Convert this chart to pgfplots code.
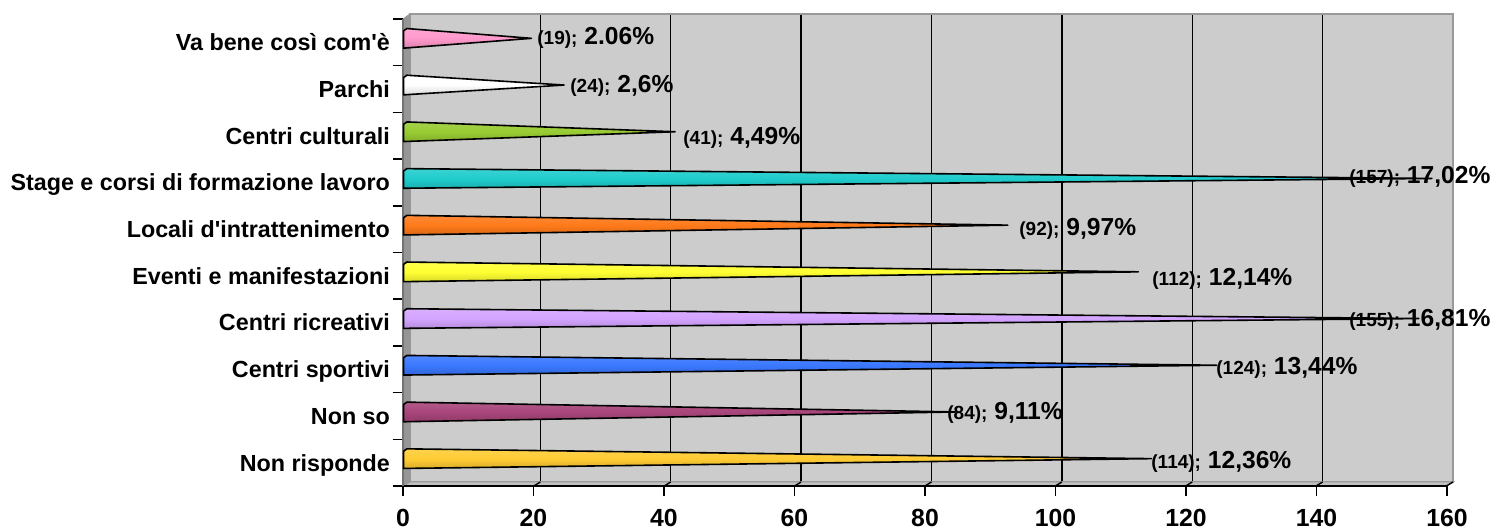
\documentclass[border=0pt]{standalone}
\usepackage{pgfplots}
\pgfplotsset{compat=1.18}
\usepackage{fontspec}
\setmainfont{Liberation Sans}
\definecolor{wall}{HTML}{CCCCCC}
\definecolor{wallb}{HTML}{999999}
\definecolor{side}{HTML}{969696}
\definecolor{floorc}{HTML}{C0C0C0}
\definecolor{cgold}{HTML}{FFCC33}
\definecolor{cmaroon}{HTML}{A8457A}
\definecolor{cblue}{HTML}{3A78FF}
\definecolor{clav}{HTML}{D4A4FF}
\definecolor{cyel}{HTML}{FFFF33}
\definecolor{cora}{HTML}{FF7A1A}
\definecolor{cteal}{HTML}{20CCCC}
\definecolor{cgreen}{HTML}{99CC33}
\definecolor{cwhite}{HTML}{FFFFFF}
\definecolor{cpink}{HTML}{FF99CC}
\newcommand{\cone}[6]{% value, lo, mid, hi, below hi, colour
  \addplot[draw=black,line width=0.8pt,line join=round,top color=#6!88!white,bottom color=#6!85!black,middle color=#6,forget plot]
   coordinates {(-0.6,#2) (#1,#3) (-0.1,#4) (-0.6,#5)} -- cycle;
}
\newcommand{\lab}[4]{% px x, px y, small, large
  \node[anchor=west,inner sep=0pt,text=black] at (axis cs:{(#1-407.5)/6.525},{(480-#2)/46.7})
   {\bfseries\fontsize{9.5pt}{10pt}\selectfont #3;\hspace{0.8pt} \fontsize{12.3pt}{13pt}\selectfont #4};
}
\begin{document}
\begin{tikzpicture}[x=1pt,y=1pt]
\path[use as bounding box] (0,0) rectangle (747,265);
% back wall
\begin{axis}[at={(205pt,24pt)},anchor=south west,scale only axis,width=521.5pt,height=234pt,
  xmin=0,xmax=160,ymin=0,ymax=1,xtick={0,20,...,160},ytick=\empty,xticklabels={},
  xmajorgrids,grid style={black,line width=0.7pt},major tick length=0pt,
  axis background/.style={fill=wall},axis line style={wallb,line width=1.1pt},
  clip=false]
  \addplot[fill=side,draw=wallb,line width=0.5pt,forget plot] coordinates {(0,1) (-1.07,0.989) (-1.07,-0.009) (0,0)} -- cycle;
  \addplot[fill=floorc,draw=wallb,line width=0.5pt,forget plot] coordinates {(0,0) (-1.07,-0.009) (158.93,-0.009) (160,0)} -- cycle;
  \addplot[draw=black,line width=0.7pt,forget plot] coordinates {(20,0) (18.93,-0.009)};
  \addplot[draw=black,line width=0.7pt,forget plot] coordinates {(40,0) (38.93,-0.009)};
  \addplot[draw=black,line width=0.7pt,forget plot] coordinates {(60,0) (58.93,-0.009)};
  \addplot[draw=black,line width=0.7pt,forget plot] coordinates {(80,0) (78.93,-0.009)};
  \addplot[draw=black,line width=0.7pt,forget plot] coordinates {(100,0) (98.93,-0.009)};
  \addplot[draw=black,line width=0.7pt,forget plot] coordinates {(120,0) (118.93,-0.009)};
  \addplot[draw=black,line width=0.7pt,forget plot] coordinates {(140,0) (138.93,-0.009)};
  \addplot[draw=black,line width=0.7pt,forget plot] coordinates {(160,0) (158.93,-0.009)};
\end{axis}
% front axes with ticks
\begin{axis}[at={(201.5pt,22pt)},anchor=south west,scale only axis,width=522pt,height=233.5pt,
  xmin=0,xmax=160,ymin=0,ymax=10,
  axis x line=bottom,axis y line=left,
  x axis line style={-,black,line width=0.75pt},
  y axis line style={-,black!55,line width=1pt},
  xtick={0,20,...,160},
  ytick={0.5,1.5,...,9.5},
  minor ytick={0,1,...,10},
  yticklabels={Non risponde,Non so,Centri sportivi,Centri ricreativi,Eventi e manifestazioni,Locali d\textquotesingle intrattenimento,{Stage e corsi di formazione lavoro},Centri culturali,Parchi,Va bene così com\textquotesingle è},
  yticklabel style={font=\bfseries\fontsize{11.65pt}{12pt}\selectfont,xshift=2pt,yshift=-1.2pt,text height=8.4pt,text depth=2.4pt},
  xticklabel style={font=\bfseries\fontsize{12.4pt}{13pt}\selectfont,inner sep=0pt,text depth=0pt},
  /pgf/number format/assume math mode=true,
  tick align=outside,
  major tick length=5pt,
  minor tick length=5pt,
  major y tick style={draw=none},
  major x tick style={black,line width=0.75pt},
  minor y tick style={black,line width=0.75pt},
  xticklabel shift=6.6pt]
\end{axis}
% cones and labels
\begin{axis}[at={(203.75pt,24pt)},anchor=south west,scale only axis,width=522pt,height=233.5pt,
  xmin=0,xmax=160,ymin=0,ymax=10,axis lines=none,clip=false]
  \cone{114}{0.29}{0.5}{0.71}{0.66}{cgold}
  \cone{84}{1.29}{1.5}{1.71}{1.66}{cmaroon}
  \cone{124}{2.29}{2.5}{2.71}{2.66}{cblue}
  \cone{155}{3.29}{3.5}{3.71}{3.66}{clav}
  \cone{112}{4.29}{4.5}{4.71}{4.66}{cyel}
  \cone{92}{5.29}{5.5}{5.71}{5.66}{cora}
  \cone{157}{6.29}{6.5}{6.71}{6.66}{cteal}
  \cone{41}{7.29}{7.5}{7.71}{7.66}{cgreen}
  \cone{24}{8.29}{8.5}{8.71}{8.66}{cwhite}
  \cone{19}{9.29}{9.5}{9.71}{9.66}{cpink}
  \lab{537}{36}{(19)}{2.06\%}
  \lab{570}{84}{(24)}{2,6\%}
  \lab{683}{136}{(41)}{4,49\%}
  \lab{1349}{175}{(157)}{17,02\%}
  \lab{1019}{227}{(92)}{9,97\%}
  \lab{1152}{277}{(112)}{12,14\%}
  \lab{1349}{318}{(155)}{16,81\%}
  \lab{1216}{366}{(124)}{13,44\%}
  \lab{947}{411}{(84)}{9,11\%}
  \lab{1151}{460}{(114)}{12,36\%}
\end{axis}
\end{tikzpicture}
\end{document}
